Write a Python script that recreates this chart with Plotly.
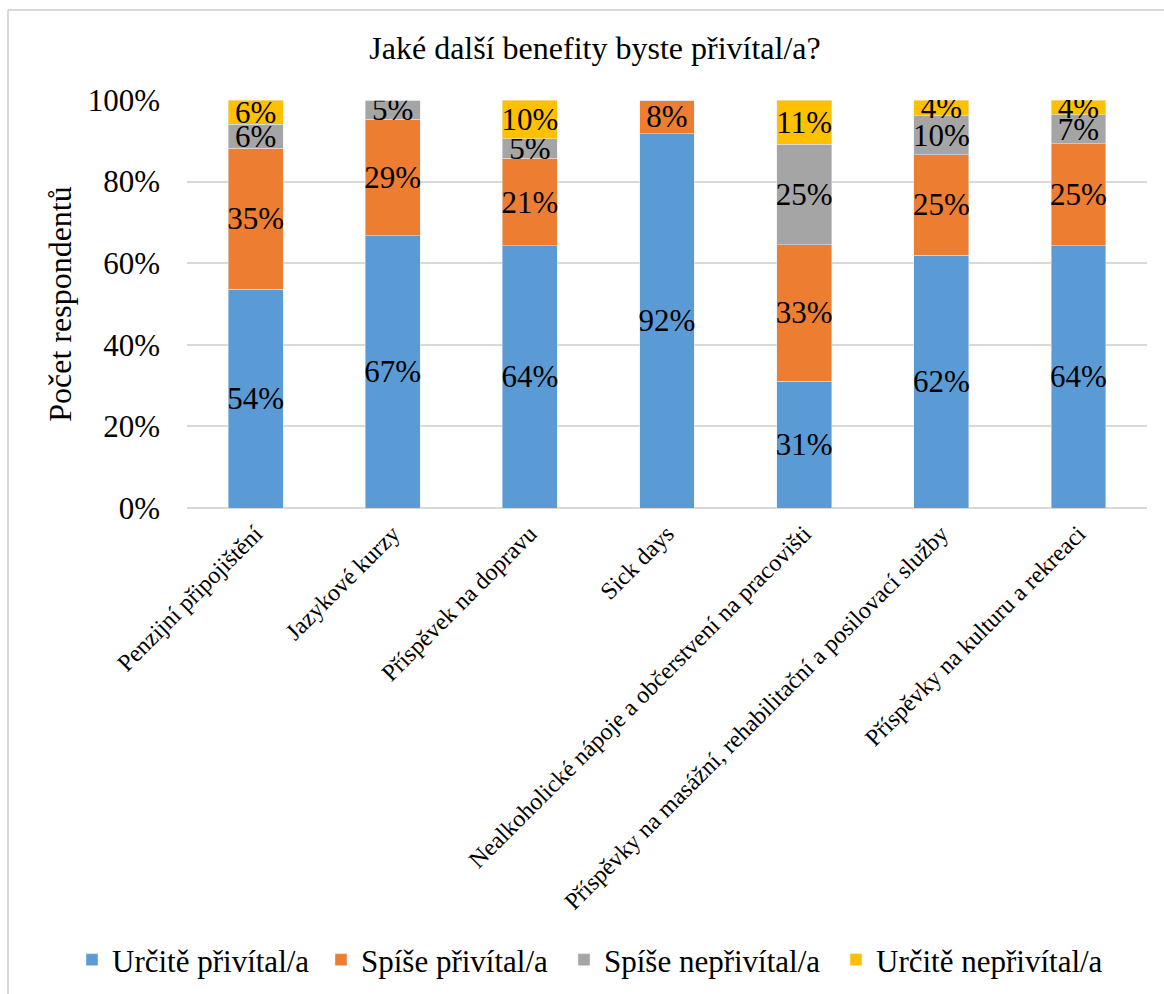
import plotly.graph_objects as go

categories = [
    "Penzijní připojištění",
    "Jazykové kurzy",
    "Příspěvek na dopravu",
    "Sick days",
    "Nealkoholické nápoje a občerstvení na pracovišti",
    "Příspěvky na masážní, rehabilitační a posilovací služby",
    "Příspěvky na kulturu a rekreaci",
]
series_names = ["Určitě přivítal/a", "Spíše přivítal/a", "Spíše nepřivítal/a", "Určitě nepřivítal/a"]
urcite_privital = [0.536, 0.667, 0.643, 0.917, 0.311, 0.620, 0.643]
spise_privital = [0.346, 0.286, 0.214, 0.083, 0.334, 0.246, 0.250]
spise_neprivital = [0.059, 0.047, 0.048, 0.0, 0.247, 0.096, 0.071]
urcite_neprivital = [0.059, 0.0, 0.095, 0.0, 0.108, 0.038, 0.036]
colors = ["#5B9BD5", "#ED7D31", "#A5A5A5", "#FFC000"]

FONT = "Times New Roman, Liberation Serif, serif"

W, H = 1164, 994
L, R, T, B = 187, 1147, 100, 508

legend_ids = ["legend", "legend2", "legend3", "legend4"]
legend_text_x = [117, 366, 609, 881]   # where each legend entry's text begins (px)

fig = go.Figure()
for name, vals, col, lid in zip(series_names,
                                [urcite_privital, spise_privital, spise_neprivital, urcite_neprivital],
                                colors, legend_ids):
    texts = [f"{round(v*100):.0f}%" if v > 0 else "" for v in vals]
    fig.add_trace(go.Bar(
        name=name, x=categories, y=vals, marker_color=col, legend=lid,
        text=texts, textposition="inside", insidetextanchor="middle",
        textangle=0, constraintext="none",
        textfont=dict(family=FONT, size=31, color="black"),
    ))


def px(x):
    return (x - L) / (R - L)


def py(y):
    return (B - y) / (B - T)


legend_cfg = {}
for lid, tx in zip(legend_ids, legend_text_x):
    legend_cfg[lid] = dict(
        orientation="h", xref="container", x=(tx - 45) / W, xanchor="left",
        yref="container", y=1 - 960 / H, yanchor="middle",
        font=dict(family=FONT, size=31, color="black"), itemwidth=30,
        bgcolor="rgba(0,0,0,0)",
    )

fig.update_layout(
    width=W, height=H,
    barmode="stack", bargap=0.6,
    plot_bgcolor="white", paper_bgcolor="white",
    margin=dict(l=L, r=W - R, t=T, b=H - B, autoexpand=False),
    font=dict(family=FONT, color="black"),
    title=dict(text="Jaké další benefity byste přivítal/a?", x=595 / W, xref="container", xanchor="center",
               y=1 - 48 / H, yanchor="middle", font=dict(family=FONT, size=32, color="black")),
    showlegend=True,
    **legend_cfg,
    xaxis=dict(tickangle=-45, tickfont=dict(family=FONT, size=24, color="black"),
               showgrid=False, showline=False, ticks="", ticklabelstandoff=6),
    yaxis=dict(range=[0, 1], dtick=0.2, tickformat=".0%",
               tickfont=dict(family=FONT, size=31, color="black"),
               showgrid=True, gridcolor="#D9D9D9", gridwidth=1.5,
               zeroline=True, zerolinecolor="#D9D9D9", zerolinewidth=1.5,
               showline=False, ticks="", ticklabelstandoff=26,
               title=dict(text="Počet respondentů", font=dict(family=FONT, size=32, color="black"),
                          standoff=6)),
    shapes=[
        dict(type="line", xref="paper", yref="paper", x0=px(8), x1=px(1164), y0=py(10), y1=py(10),
             line=dict(color="#D9D9D9", width=2)),
        dict(type="line", xref="paper", yref="paper", x0=px(8), x1=px(8), y0=py(10), y1=py(994),
             line=dict(color="#D9D9D9", width=2)),
    ],
)

fig.write_html("out.html")
